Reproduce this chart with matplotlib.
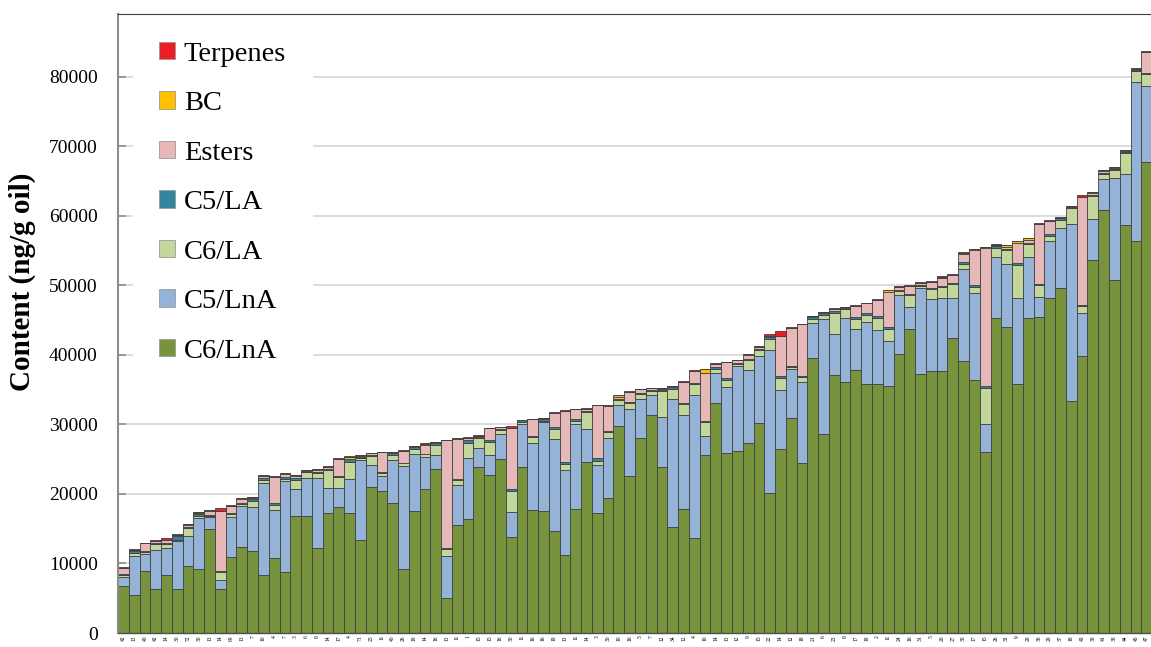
import matplotlib
matplotlib.use("Agg")
import matplotlib.pyplot as plt
import numpy as np
from matplotlib.patches import Patch

# Volatile content per oil sample (ng/g oil), samples sorted by total
sample_ids = [
    "42", "13", "40", "42", "14", "30", "72", "30", "13", "14", "69", "13",
    "7", "10", "4", "7", "3", "6", "8", "14", "17", "4", "71", "25",
    "11", "40", "26", "19", "14", "16", "13", "11", "1", "15", "15", "16",
    "30", "11", "16", "16", "19", "13", "11", "14", "3", "30", "10", "16",
    "5", "7", "12", "34", "12", "4", "10", "14", "13", "12", "9", "15",
    "22", "14", "12", "18", "21", "6", "23", "8", "17", "19", "2", "11",
    "24", "16", "31", "5", "20", "27", "35", "17", "15", "26", "33", "9",
    "28", "36", "29", "37", "18", "43", "39", "41", "38", "44", "45", "47",
]

c6_lna = [
    6800, 5500, 8900, 6300, 8400, 6300, 9600, 9200, 15000, 6400, 10900, 12400,
    11800, 8400, 10800, 8800, 16900, 16900, 12200, 17200, 18100, 17300, 13400, 21000,
    20400, 18750, 9200, 17600, 20700, 23650, 5100, 15500, 16400, 23900, 22700, 25000,
    13800, 23900, 17700, 17600, 14700, 11200, 17900, 24550, 17300, 19400, 29800, 22650,
    28000, 31300, 23900, 15300, 17800, 13600, 25600, 33050, 25900, 26150, 27400, 30200,
    20100, 26500, 31000, 24400, 39600, 28600, 37150, 36150, 37800, 35800, 35850, 35600,
    40100, 43750, 37300, 37750, 37750, 42500, 39200, 36400, 26000, 45250, 44000, 35800,
    45250, 45500, 48200, 49650, 33450, 39900, 53600, 60850, 50800, 58750, 56400, 67800,
]
c5_lna = [
    1200, 5600, 2450, 5700, 3800, 6900, 4400, 7400, 1700, 1200, 5800, 5900,
    6300, 13200, 6900, 13100, 3800, 5450, 10150, 3650, 2750, 4850, 11500, 3150,
    2200, 6150, 14800, 8150, 4600, 2000, 6000, 5750, 8750, 2750, 2850, 3700,
    3650, 6100, 9650, 12700, 13250, 12300, 12200, 4750, 6900, 8700, 3000, 9650,
    5600, 2900, 7150, 18400, 13500, 20700, 2800, 4300, 9450, 12250, 10450, 9700,
    20600, 8400, 6950, 11750, 5000, 16600, 5850, 9100, 5950, 8950, 7700, 6400,
    8600, 3100, 12350, 10350, 10450, 5750, 13200, 12450, 4000, 8800, 9150, 12450,
    8850, 2900, 8150, 8600, 25350, 6200, 6000, 4500, 14600, 7250, 22900, 10950,
]
c6_la = [
    300, 430, 300, 850, 550, 250, 1050, 250, 150, 1200, 350, 300,
    950, 450, 750, 250, 1300, 800, 700, 2600, 1650, 2500, 300, 1350,
    400, 700, 400, 700, 400, 1450, 1000, 700, 2250, 1350, 1950, 550,
    2950, 350, 800, 250, 1450, 800, 450, 2550, 500, 800, 700, 750,
    750, 600, 3750, 1450, 1600, 1500, 1900, 650, 1050, 250, 1400, 750,
    1600, 1850, 300, 650, 550, 550, 3100, 1300, 1450, 1000, 1800, 1800,
    450, 1750, 250, 1400, 1550, 1950, 700, 950, 5200, 1400, 1900, 4750,
    1800, 1600, 800, 1200, 2300, 950, 3250, 700, 1200, 3000, 1500, 1650,
]
c5_la = [
    200, 250, 150, 100, 150, 450, 250, 200, 100, 150, 250, 150,
    250, 250, 250, 300, 300, 100, 150, 200, 100, 350, 150, 150,
    200, 300, 100, 250, 100, 250, 200, 250, 400, 200, 200, 150,
    250, 250, 250, 250, 250, 250, 250, 150, 450, 200, 200, 250,
    150, 200, 200, 200, 200, 200, 200, 200, 250, 200, 200, 200,
    250, 200, 200, 200, 300, 250, 250, 150, 200, 250, 200, 200,
    200, 200, 200, 200, 200, 200, 250, 200, 300, 250, 250, 200,
    200, 200, 200, 200, 200, 200, 200, 200, 200, 200, 250, 150,
]
esters = [
    800, 100, 1100, 300, 550, 200, 250, 200, 550, 8600, 1000, 550,
    150, 250, 3800, 400, 300, 250, 300, 300, 2450, 100, 50, 300,
    2800, 150, 1700, 200, 1200, 150, 15400, 5650, 250, 150, 1750, 200,
    8900, 100, 2350, 200, 2000, 7400, 1400, 300, 7600, 3550, 300, 1400,
    550, 250, 100, 200, 3000, 1700, 6850, 550, 2300, 400, 550, 250,
    250, 5800, 5500, 7400, 150, 150, 300, 150, 1650, 1450, 2350, 5100,
    450, 1100, 300, 850, 1100, 1150, 1200, 5100, 19850, 150, 300, 2950,
    500, 8650, 1900, 100, 100, 15550, 300, 250, 150, 150, 150, 3050,
]
bc = [
    100, 0, 50, 0, 0, 0, 100, 200, 150, 0, 0, 150,
    100, 0, 0, 100, 150, 0, 100, 0, 0, 200, 200, 0,
    0, 0, 0, 0, 250, 0, 0, 200, 50, 0, 0, 0,
    0, 0, 0, 0, 0, 0, 0, 0, 0, 0, 250, 0,
    0, 0, 200, 0, 0, 0, 700, 0, 0, 0, 150, 0,
    0, 0, 0, 0, 50, 0, 0, 50, 0, 0, 0, 300,
    0, 0, 0, 0, 150, 0, 100, 100, 150, 0, 200, 200,
    200, 0, 0, 0, 0, 0, 100, 100, 100, 100, 0, 0,
]
terpenes = [
    150, 150, 50, 150, 150, 150, 100, 0, 0, 450, 100, 0,
    0, 200, 150, 0, 50, 0, 0, 100, 100, 100, 0, 0,
    100, 0, 100, 0, 50, 50, 100, 0, 100, 100, 100, 50,
    200, 0, 100, 0, 100, 100, 100, 100, 100, 150, 0, 100,
    100, 50, 0, 0, 100, 100, 0, 100, 100, 100, 0, 150,
    200, 750, 100, 100, 0, 50, 100, 0, 100, 100, 100, 0,
    100, 100, 50, 100, 200, 50, 100, 100, 100, 50, 0, 0,
    0, 150, 100, 50, 100, 150, 0, 0, 0, 0, 100, 200,
]

series = [
    ("C6/LnA", c6_lna, "#77933c"),
    ("C5/LnA", c5_lna, "#95b3d7"),
    ("C6/LA", c6_la, "#c3d69b"),
    ("C5/LA", c5_la, "#31859c"),
    ("Esters", esters, "#e6b9b8"),
    ("BC", bc, "#ffc000"),
    ("Terpenes", terpenes, "#ee1c25"),
]

W, H = 1151, 647
fig = plt.figure(figsize=(W / 100, H / 100), dpi=100)
ax = fig.add_axes([118 / W, 1 - 633 / H, 1 - 118 / W, (633 - 14) / H])

x = np.arange(len(c6_lna))
bottom = np.zeros(len(x))
for name, vals, col in series:
    vals = np.array(vals, dtype=float)
    ax.bar(x, vals, width=1.0, bottom=bottom, color=col,
           edgecolor="#404040", linewidth=0.6, label=name)
    bottom += vals

ax.set_xlim(-0.5, 95.4)
ax.set_ylim(0, 89060)
ax.set_yticks(np.arange(0, 80001, 10000))
ax.set_yticklabels([str(v) for v in range(0, 80001, 10000)],
                   fontsize=14, family="Liberation Serif")
ax.set_xticks(x)
ax.set_xticklabels(sample_ids, rotation=90, fontsize=4, family="Liberation Serif")
ax.tick_params(axis="x", length=0, pad=1.5)
ax.tick_params(axis="y", direction="in", length=6, width=1.2,
               color="#8c8c8c", pad=14.5)

ax.grid(axis="y", color="#d9d9d9", linewidth=1.3)
ax.set_axisbelow(True)
ax.spines["right"].set_visible(False)
ax.spines["left"].set_color("#8c8c8c")
ax.spines["left"].set_linewidth(1.5)
ax.spines["top"].set_color("#404040")
ax.spines["top"].set_linewidth(0.8)
ax.spines["bottom"].set_color("#505050")
ax.spines["bottom"].set_linewidth(1.0)

fig.text(22 / W, 1 - 282 / H, "Content (ng/g oil)", rotation=90,
         ha="center", va="center", fontsize=21, fontweight="bold",
         family="Liberation Serif")

handles = [Patch(facecolor=col, edgecolor="#9a9a9a", linewidth=0.6, label=name)
           for name, _, col in reversed(series)]
leg = ax.legend(handles=handles, loc="upper left",
                bbox_to_anchor=(133 / W, 1 - 16 / H),
                bbox_transform=fig.transFigure,
                prop={"family": "Liberation Serif", "size": 20.5},
                labelspacing=0.86, handlelength=0.58, handleheight=0.58,
                handletextpad=0.3, borderpad=0.9, borderaxespad=0,
                frameon=True, fancybox=False, framealpha=1,
                facecolor="white", edgecolor="white")

fig.savefig("out.png", dpi=100, facecolor="white")
